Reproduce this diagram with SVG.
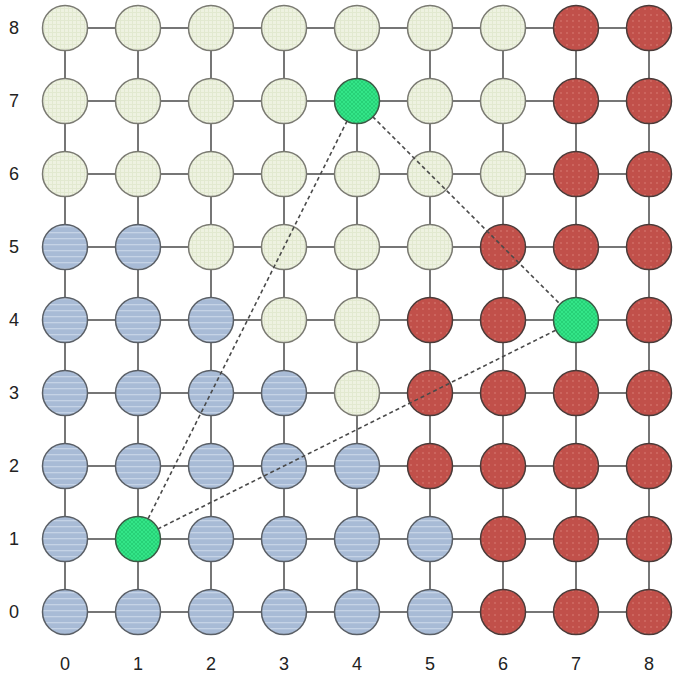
<svg xmlns="http://www.w3.org/2000/svg" width="675" height="683" viewBox="0 0 675 683">
<defs>
<pattern id="pCream" width="4" height="4" patternUnits="userSpaceOnUse">
<rect width="4" height="4" fill="#eef2e1"/>
<path d="M0 0.5H4M0.5 0V4" stroke="#e2e9d0" stroke-width="1"/>
</pattern>
<pattern id="pBlue" width="6" height="6" patternUnits="userSpaceOnUse">
<rect width="6" height="6" fill="#a8bbd6"/>
<rect y="4" width="6" height="1.3" fill="#c5d3e6"/>
</pattern>
<pattern id="pRed" width="6" height="6" patternUnits="userSpaceOnUse">
<rect width="6" height="6" fill="#c1504a"/>
<circle cx="3" cy="3" r="0.7" fill="#e08a80"/>
</pattern>
<pattern id="pGreen" width="4" height="4" patternUnits="userSpaceOnUse">
<rect width="4" height="4" fill="#33e588"/>
<path d="M0 0L4 4M4 0L0 4" stroke="#22c870" stroke-width="0.7"/>
</pattern>
</defs>
<style>
.grid{stroke:#4a4a4a;stroke-width:1.5;fill:none}
.dash{stroke:#4a4a4a;stroke-width:1.6;stroke-dasharray:4 3;fill:none}
circle.n{stroke-width:1.5}
.c{fill:url(#pCream);stroke:#7a7a72}
.b{fill:url(#pBlue);stroke:#5a5f66}
.r{fill:url(#pRed);stroke:#4a3a38}
.g{fill:url(#pGreen);stroke:#3a5a44}
text{font-family:"Liberation Sans",Arial,sans-serif;font-size:18px;fill:#222}
</style>
<g id="connectors">
<path class="grid" d="M65 28H649M65 101H649M65 174H649M65 247H649M65 320H649M65 393H649M65 466H649M65 539H649M65 612H649"/>
<path class="grid" d="M65 28V612M138 28V612M211 28V612M284 28V612M357 28V612M430 28V612M503 28V612M576 28V612M649 28V612"/>
</g>
<g id="nodes">
<g id="n0-8"><circle class="n c" cx="65" cy="28" r="22.5"/></g>
<g id="n1-8"><circle class="n c" cx="138" cy="28" r="22.5"/></g>
<g id="n2-8"><circle class="n c" cx="211" cy="28" r="22.5"/></g>
<g id="n3-8"><circle class="n c" cx="284" cy="28" r="22.5"/></g>
<g id="n4-8"><circle class="n c" cx="357" cy="28" r="22.5"/></g>
<g id="n5-8"><circle class="n c" cx="430" cy="28" r="22.5"/></g>
<g id="n6-8"><circle class="n c" cx="503" cy="28" r="22.5"/></g>
<g id="n7-8"><circle class="n r" cx="576" cy="28" r="22.5"/></g>
<g id="n8-8"><circle class="n r" cx="649" cy="28" r="22.5"/></g>

<g id="n0-7"><circle class="n c" cx="65" cy="101" r="22.5"/></g>
<g id="n1-7"><circle class="n c" cx="138" cy="101" r="22.5"/></g>
<g id="n2-7"><circle class="n c" cx="211" cy="101" r="22.5"/></g>
<g id="n3-7"><circle class="n c" cx="284" cy="101" r="22.5"/></g>
<g id="n4-7"><circle class="n g" cx="357" cy="101" r="22.5"/></g>
<g id="n5-7"><circle class="n c" cx="430" cy="101" r="22.5"/></g>
<g id="n6-7"><circle class="n c" cx="503" cy="101" r="22.5"/></g>
<g id="n7-7"><circle class="n r" cx="576" cy="101" r="22.5"/></g>
<g id="n8-7"><circle class="n r" cx="649" cy="101" r="22.5"/></g>

<g id="n0-6"><circle class="n c" cx="65" cy="174" r="22.5"/></g>
<g id="n1-6"><circle class="n c" cx="138" cy="174" r="22.5"/></g>
<g id="n2-6"><circle class="n c" cx="211" cy="174" r="22.5"/></g>
<g id="n3-6"><circle class="n c" cx="284" cy="174" r="22.5"/></g>
<g id="n4-6"><circle class="n c" cx="357" cy="174" r="22.5"/></g>
<g id="n5-6"><circle class="n c" cx="430" cy="174" r="22.5"/></g>
<g id="n6-6"><circle class="n c" cx="503" cy="174" r="22.5"/></g>
<g id="n7-6"><circle class="n r" cx="576" cy="174" r="22.5"/></g>
<g id="n8-6"><circle class="n r" cx="649" cy="174" r="22.5"/></g>

<g id="n0-5"><circle class="n b" cx="65" cy="247" r="22.5"/></g>
<g id="n1-5"><circle class="n b" cx="138" cy="247" r="22.5"/></g>
<g id="n2-5"><circle class="n c" cx="211" cy="247" r="22.5"/></g>
<g id="n3-5"><circle class="n c" cx="284" cy="247" r="22.5"/></g>
<g id="n4-5"><circle class="n c" cx="357" cy="247" r="22.5"/></g>
<g id="n5-5"><circle class="n c" cx="430" cy="247" r="22.5"/></g>
<g id="n6-5"><circle class="n r" cx="503" cy="247" r="22.5"/></g>
<g id="n7-5"><circle class="n r" cx="576" cy="247" r="22.5"/></g>
<g id="n8-5"><circle class="n r" cx="649" cy="247" r="22.5"/></g>

<g id="n0-4"><circle class="n b" cx="65" cy="320" r="22.5"/></g>
<g id="n1-4"><circle class="n b" cx="138" cy="320" r="22.5"/></g>
<g id="n2-4"><circle class="n b" cx="211" cy="320" r="22.5"/></g>
<g id="n3-4"><circle class="n c" cx="284" cy="320" r="22.5"/></g>
<g id="n4-4"><circle class="n c" cx="357" cy="320" r="22.5"/></g>
<g id="n5-4"><circle class="n r" cx="430" cy="320" r="22.5"/></g>
<g id="n6-4"><circle class="n r" cx="503" cy="320" r="22.5"/></g>
<g id="n7-4"><circle class="n g" cx="576" cy="320" r="22.5"/></g>
<g id="n8-4"><circle class="n r" cx="649" cy="320" r="22.5"/></g>

<g id="n0-3"><circle class="n b" cx="65" cy="393" r="22.5"/></g>
<g id="n1-3"><circle class="n b" cx="138" cy="393" r="22.5"/></g>
<g id="n2-3"><circle class="n b" cx="211" cy="393" r="22.5"/></g>
<g id="n3-3"><circle class="n b" cx="284" cy="393" r="22.5"/></g>
<g id="n4-3"><circle class="n c" cx="357" cy="393" r="22.5"/></g>
<g id="n5-3"><circle class="n r" cx="430" cy="393" r="22.5"/></g>
<g id="n6-3"><circle class="n r" cx="503" cy="393" r="22.5"/></g>
<g id="n7-3"><circle class="n r" cx="576" cy="393" r="22.5"/></g>
<g id="n8-3"><circle class="n r" cx="649" cy="393" r="22.5"/></g>

<g id="n0-2"><circle class="n b" cx="65" cy="466" r="22.5"/></g>
<g id="n1-2"><circle class="n b" cx="138" cy="466" r="22.5"/></g>
<g id="n2-2"><circle class="n b" cx="211" cy="466" r="22.5"/></g>
<g id="n3-2"><circle class="n b" cx="284" cy="466" r="22.5"/></g>
<g id="n4-2"><circle class="n b" cx="357" cy="466" r="22.5"/></g>
<g id="n5-2"><circle class="n r" cx="430" cy="466" r="22.5"/></g>
<g id="n6-2"><circle class="n r" cx="503" cy="466" r="22.5"/></g>
<g id="n7-2"><circle class="n r" cx="576" cy="466" r="22.5"/></g>
<g id="n8-2"><circle class="n r" cx="649" cy="466" r="22.5"/></g>

<g id="n0-1"><circle class="n b" cx="65" cy="539" r="22.5"/></g>
<g id="n1-1"><circle class="n g" cx="138" cy="539" r="22.5"/></g>
<g id="n2-1"><circle class="n b" cx="211" cy="539" r="22.5"/></g>
<g id="n3-1"><circle class="n b" cx="284" cy="539" r="22.5"/></g>
<g id="n4-1"><circle class="n b" cx="357" cy="539" r="22.5"/></g>
<g id="n5-1"><circle class="n b" cx="430" cy="539" r="22.5"/></g>
<g id="n6-1"><circle class="n r" cx="503" cy="539" r="22.5"/></g>
<g id="n7-1"><circle class="n r" cx="576" cy="539" r="22.5"/></g>
<g id="n8-1"><circle class="n r" cx="649" cy="539" r="22.5"/></g>

<g id="n0-0"><circle class="n b" cx="65" cy="612" r="22.5"/></g>
<g id="n1-0"><circle class="n b" cx="138" cy="612" r="22.5"/></g>
<g id="n2-0"><circle class="n b" cx="211" cy="612" r="22.5"/></g>
<g id="n3-0"><circle class="n b" cx="284" cy="612" r="22.5"/></g>
<g id="n4-0"><circle class="n b" cx="357" cy="612" r="22.5"/></g>
<g id="n5-0"><circle class="n b" cx="430" cy="612" r="22.5"/></g>
<g id="n6-0"><circle class="n r" cx="503" cy="612" r="22.5"/></g>
<g id="n7-0"><circle class="n r" cx="576" cy="612" r="22.5"/></g>
<g id="n8-0"><circle class="n r" cx="649" cy="612" r="22.5"/></g>
</g>
<g id="triangle">
<line class="dash" x1="372.6" y1="116.6" x2="560.4" y2="304.4"/>
<line class="dash" x1="347.2" y1="120.7" x2="147.8" y2="519.3"/>
<line class="dash" x1="157.6" y1="529.1" x2="556.4" y2="329.9"/>
</g>
<g id="labels">
<text x="14" y="34" text-anchor="middle">8</text>
<text x="14" y="107" text-anchor="middle">7</text>
<text x="14" y="180" text-anchor="middle">6</text>
<text x="14" y="253" text-anchor="middle">5</text>
<text x="14" y="326" text-anchor="middle">4</text>
<text x="14" y="399" text-anchor="middle">3</text>
<text x="14" y="472" text-anchor="middle">2</text>
<text x="14" y="545" text-anchor="middle">1</text>
<text x="14" y="618" text-anchor="middle">0</text>
<text x="65" y="670" text-anchor="middle">0</text>
<text x="138" y="670" text-anchor="middle">1</text>
<text x="211" y="670" text-anchor="middle">2</text>
<text x="284" y="670" text-anchor="middle">3</text>
<text x="357" y="670" text-anchor="middle">4</text>
<text x="430" y="670" text-anchor="middle">5</text>
<text x="503" y="670" text-anchor="middle">6</text>
<text x="576" y="670" text-anchor="middle">7</text>
<text x="649" y="670" text-anchor="middle">8</text>
</g>
</svg>
